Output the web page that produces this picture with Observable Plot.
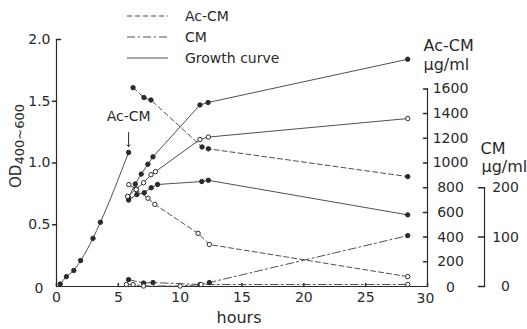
<!DOCTYPE html>
<html>
<head>
<meta charset="utf-8">
<script src="https://cdn.jsdelivr.net/npm/d3@7"></script>
<script src="https://cdn.jsdelivr.net/npm/@observablehq/plot@0.6"></script>
<style>
  html, body { margin: 0; padding: 0; background: #fff; }
  #chart { position: relative; width: 527px; height: 329px; overflow: hidden; }
  svg { font-family: "DejaVu Sans", sans-serif; }
</style>
</head>
<body>
<div id="chart"></div>
<script>
// Axis ticks
const hourTicks = [0, 5, 10, 15, 20, 25, 30];
const odTicks = [0.5, 1.0, 1.5, 2.0];
const acTicks = [0, 200, 400, 600, 800, 1000, 1200, 1400, 1600];
const cmTicks = [0, 100, 200];

// Scale of the two concentration axes against OD
const acPerOD = 1000; // Ac-CM µg/ml per OD unit
const cmPerOD = 250;  // CM µg/ml per OD unit

// Growth before Ac-CM addition
const preHours = [0.3, 0.8, 1.4, 1.95, 2.95, 3.55, 5.83];
const preOD = [0.02, 0.08, 0.13, 0.21, 0.39, 0.52, 1.085];

// Growth curves after addition
const growthAHours = [5.83, 6.37, 6.85, 7.39, 7.8, 11.6, 12.26, 28.4];
const growthAOD = [0.72, 0.83, 0.91, 0.99, 1.05, 1.47, 1.49, 1.84];
const growthBHours = [5.75, 6.45, 7.04, 7.64, 8.0, 11.6, 12.28, 28.4];
const growthBOD = [0.73, 0.79, 0.84, 0.905, 0.93, 1.19, 1.21, 1.36];
const growthCHours = [5.83, 6.5, 7.1, 7.66, 8.17, 11.75, 12.28, 28.4];
const growthCOD = [0.70, 0.745, 0.76, 0.80, 0.826, 0.85, 0.86, 0.58];

// Ac-CM in the medium (µg/ml)
const acFilledHours = [6.19, 7.07, 7.64, 11.77, 12.28, 28.4];
const acFilled = [1610, 1530, 1510, 1130, 1115, 890];
const acOpenHours = [5.85, 6.45, 7.4, 7.95, 11.45, 12.36, 28.4];
const acOpen = [825, 785, 715, 665, 430, 340, 80];

// CM in the medium (µg/ml)
const cmFilledHours = [5.83, 7.04, 7.8, 11.6, 12.36, 28.4];
const cmFilled = [14, 7, 8, 4, 8, 103];
const cmOpenHours = [5.65, 6.2, 7.04, 10.0, 11.7, 28.4];
const cmOpen = [4, 4, 1, 1, 4, 4];

// Time of Ac-CM addition
const additionHour = 5.83;
const additionOD = 1.085;

const rows = (hours, values, per = 1) => hours.map((h, i) => ({h, y: values[i] / per}));

const pre = rows(preHours, preOD);
const gA = rows(growthAHours, growthAOD);
const gB = rows(growthBHours, growthBOD);
const gC = rows(growthCHours, growthCOD);
const acF = rows(acFilledHours, acFilled, acPerOD);
const acO = rows(acOpenHours, acOpen, acPerOD);
const cmF = rows(cmFilledHours, cmFilled, cmPerOD);
const cmO = rows(cmOpenHours, cmOpen, cmPerOD);

const ink = "#2a2a2a";
const lineInk = "#505050";
const dashed = "5,3";
const dashDot = "8,3,2,3";

// plain tick stroke drawn by vector marks
const tickShape = {draw(context, l) { context.moveTo(0, 0); context.lineTo(0, -l); }};

const cmAxisDx = 57;
const acTop = acTicks[acTicks.length - 1] / acPerOD;
const cmTop = cmTicks[cmTicks.length - 1] / cmPerOD;

const lineMark = (data, dash, curve = "linear") =>
  Plot.line(data, {x: "h", y: "y", stroke: lineInk, strokeWidth: 1, strokeDasharray: dash, curve});
const dotMark = (data, filled) =>
  Plot.dot(data, {x: "h", y: "y", r: 2.2, fill: filled ? ink : "white", stroke: ink, strokeWidth: 1});

const chart = Plot.plot({
  width: 527,
  height: 329,
  marginLeft: 56,
  marginRight: 100,
  marginTop: 39,
  marginBottom: 43,
  x: {domain: [0, 30], axis: null},
  y: {domain: [0, 2], axis: null},
  style: {fontFamily: "DejaVu Sans, sans-serif", color: ink, background: "white"},
  marks: [
    // frame lines
    Plot.ruleY([0], {x1: 0, x2: 30, stroke: ink, strokeWidth: 1.2}),
    Plot.ruleX([0], {y1: 0, y2: 2, stroke: ink, strokeWidth: 1.2}),
    Plot.ruleX([30], {y1: 0, y2: acTop, stroke: ink, strokeWidth: 1.2}),
    Plot.ruleX([30], {y1: 0, y2: cmTop, dx: cmAxisDx, stroke: ink, strokeWidth: 1.2}),

    // x axis
    Plot.vector(hourTicks, {x: d => d, y: 0, length: 3, rotate: 0, anchor: "start", shape: tickShape, stroke: ink}),
    Plot.text(hourTicks.slice(0, -1), {x: d => d, y: 0, text: d => String(d), dy: 11, fontSize: 14, fill: ink}),
    Plot.text(hourTicks.slice(-1), {x: d => d, y: 0, text: d => String(d), dy: 12, dx: -2, fontSize: 14, fill: ink}),
    Plot.text(["hours"], {frameAnchor: "bottom", text: d => d, dy: 36, dx: -3, fontSize: 16, fill: ink}),

    // left OD axis
    Plot.vector(odTicks.slice(0, -1), {x: 0, y: d => d, length: 4, rotate: -90, anchor: "start", shape: tickShape, stroke: ink}),
    Plot.vector(odTicks.slice(-1), {x: 0, y: d => d, length: 4, rotate: 90, anchor: "start", shape: tickShape, stroke: ink}),
    Plot.text(odTicks, {x: 0, y: d => d, text: d => d.toFixed(1), textAnchor: "end", dx: -6, fontSize: 14, fill: ink}),
    Plot.text([0], {x: 0, y: 0, text: d => String(d), textAnchor: "end", dx: -13, dy: 2, fontSize: 14, fill: ink}),

    // right Ac-CM axis
    Plot.vector(acTicks.slice(1), {x: 30, y: d => d / acPerOD, length: 4, rotate: -90, anchor: "start", shape: tickShape, stroke: ink}),
    Plot.text(acTicks.slice(1), {x: 30, y: d => d / acPerOD, text: d => String(d), dx: 23, fontSize: 14, fill: ink}),
    Plot.text(acTicks.slice(0, 1), {x: 30, y: d => d / acPerOD, text: d => String(d), dx: 23, dy: 1, fontSize: 14, fill: ink}),
    Plot.text(["Ac-CM"], {x: 30, y: acTop, text: d => d, textAnchor: "start", dx: -4, dy: -43, fontSize: 16, fill: ink}),
    Plot.text(["µg/ml"], {x: 30, y: acTop, text: d => d, textAnchor: "start", dx: -4, dy: -24, fontSize: 16, fill: ink}),

    // right CM axis
    Plot.vector(cmTicks, {x: 30, y: d => d / cmPerOD, dx: cmAxisDx, length: 6, rotate: -90, anchor: "start", shape: tickShape, stroke: ink}),
    Plot.text(cmTicks, {x: 30, y: d => d / cmPerOD, text: d => String(d), dx: cmAxisDx + 21, fontSize: 14, fill: ink}),
    Plot.text(["CM"], {x: 30, y: cmTop, text: d => d, textAnchor: "start", dx: 53, dy: -39, fontSize: 16, fill: ink}),
    Plot.text(["µg/ml"], {x: 30, y: cmTop, text: d => d, textAnchor: "start", dx: 54, dy: -21, fontSize: 16, fill: ink}),

    // series lines
    lineMark(pre, null, "monotone-x"),
    lineMark(gA, null),
    lineMark(gB, null),
    lineMark(gC, null),
    lineMark(acF, dashed),
    lineMark(acO, dashed),
    lineMark(cmF, dashDot),
    lineMark(cmO, dashDot),

    // series points
    dotMark(pre, true),
    dotMark(gA, true),
    dotMark(gC, true),
    dotMark(acF, true),
    dotMark(cmF, true),
    dotMark(gB, false),
    dotMark(acO, false),
    dotMark(cmO, false),

    // Ac-CM addition marker
    Plot.vector([additionHour], {x: d => d, y: additionOD, length: 14, rotate: 180, anchor: "end", dy: -6, r: 2, stroke: ink, strokeWidth: 1}),
    Plot.text(["Ac-CM"], {x: additionHour, y: additionOD, text: d => d, dy: -36, fontSize: 14, fill: ink})
  ]
});

const svg = d3.select(chart);

// rotated OD label with subscript
const ylab = svg.append("text")
  .attr("transform", "translate(21,146) rotate(-90)")
  .attr("text-anchor", "middle")
  .attr("fill", ink);
ylab.append("tspan").attr("font-size", 15).text("OD");
ylab.append("tspan").attr("font-size", 13).attr("dy", 3).text("400~600");

// legend
const legendItems = [
  {label: "Ac-CM", dash: dashed},
  {label: "CM", dash: dashDot},
  {label: "Growth curve", dash: null}
];
const legend = svg.append("g").attr("font-size", 14).attr("fill", ink).attr("text-anchor", "start");
legendItems.forEach((d, i) => {
  const y = 16 + i * 21;
  legend.append("line")
    .attr("x1", 127).attr("x2", 168).attr("y1", y).attr("y2", y)
    .attr("stroke", lineInk).attr("stroke-width", 1)
    .attr("stroke-dasharray", d.dash);
  legend.append("text")
    .attr("x", 185).attr("y", y).attr("dy", "0.35em")
    .attr("text-anchor", "start")
    .text(d.label);
});

document.getElementById("chart").appendChild(chart);
</script>
</body>
</html>
